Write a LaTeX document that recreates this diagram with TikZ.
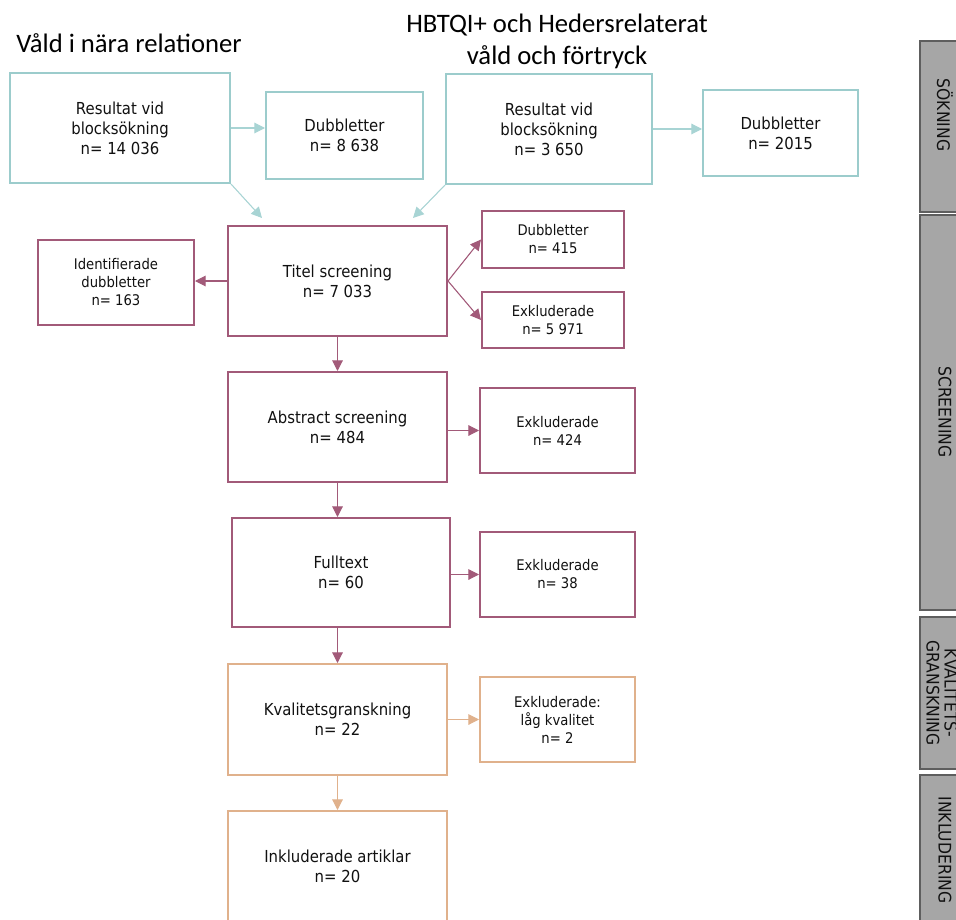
\documentclass[tikz,border=0pt]{standalone}
\usepackage{fontspec}
\setmainfont[FakeStretch=0.9]{DejaVu Sans}
\newfontfamily\titlefont{Carlito}
\usetikzlibrary{arrows.meta}
\definecolor{tealc}{HTML}{9CCCCC}
\definecolor{tealarr}{HTML}{A8D4D4}
\definecolor{maroon}{HTML}{A25A79}
\definecolor{tanc}{HTML}{E0B18C}
\definecolor{sidefill}{HTML}{A6A6A6}
\definecolor{sideline}{HTML}{5E5E5E}
\definecolor{txt}{HTML}{111111}
\tikzset{
  sz/.style 2 args={minimum width=#1*0.75pt, minimum height=#2*0.75pt},
  boxbase/.style={draw, line width=1.5pt, fill=white, align=center, inner sep=0pt, text=txt},
  big/.style={boxbase, font=\fontsize{12.4}{15}\selectfont},
  small/.style={boxbase, font=\fontsize{11}{13.5}\selectfont},
  tealbox/.style={draw=tealc},
  marbox/.style={draw=maroon},
  tanbox/.style={draw=tanc},
  arr/.style={line width=0.8pt, -{Triangle[length=8pt,width=8pt]}},
  tarr/.style={arr, draw=tealarr, fill=tealarr},
  marr/.style={arr, draw=maroon, fill=maroon},
  oarr/.style={arr, draw=tanc, fill=tanc},
  side/.style={draw=sideline, fill=sidefill, line width=1.2pt},
  sidetext/.style={rotate=-90, align=center, font=\fontsize{13}{13.5}\selectfont, text=txt},
  ttl/.style={font=\titlefont\fontsize{20}{24}\selectfont, align=center, text=black}
}
\begin{document}
\begin{tikzpicture}[x=0.75pt,y=-0.75pt]
\useasboundingbox (0,0) rectangle (956,920);
\clip (0,0) rectangle (956,920);

% titles
\node[ttl] (t1) at (129,43) {Våld i nära relationer};
\node[ttl] (t2) at (557,41) {HBTQI+ och Hedersrelaterat\\våld och förtryck};

% search boxes
\node[big, tealbox, sz={220}{110}] (r1) at (120,128) {Resultat vid\\blocksökning\\n= 14 036};
\node[big, tealbox, sz={157}{87}] (d1) at (344.5,135.5) {Dubbletter\\n= 8 638};
\node[big, tealbox, sz={206}{110}] (r2) at (549,129) {Resultat vid\\blocksökning\\n= 3 650};
\node[big, tealbox, sz={155}{86}] (d2) at (780.5,133) {Dubbletter\\n= 2015};

% screening
\node[big, marbox, sz={219}{110}] (ti) at (337.5,281) {Titel screening\\n= 7 033};
\node[small, marbox, sz={156}{85}] (id) at (116,282.5) {Identifierade\\dubbletter\\n= 163};
\node[small, marbox, sz={142}{57}] (da) at (553,239.5) {Dubbletter\\n= 415};
\node[small, marbox, sz={142}{56}] (ea) at (553,320) {Exkluderade\\n= 5 971};
\node[big, marbox, sz={219}{110}] (ab) at (337.5,427) {Abstract screening\\n= 484};
\node[small, marbox, sz={155}{85}] (eb) at (557.5,430.5) {Exkluderade\\n= 424};
\node[big, marbox, sz={218}{109}] (fu) at (341,572.5) {Fulltext\\n= 60};
\node[small, marbox, sz={155}{85}] (ec) at (557.5,574.5) {Exkluderade\\n= 38};

% quality
\node[big, tanbox, sz={219}{111}] (kv) at (337.5,719.5) {Kvalitetsgranskning\\n= 22};
\node[small, tanbox, sz={155}{85}] (el) at (557.5,719.5) {Exkluderade:\\låg kvalitet\\n= 2};
\node[big, tanbox, sz={219}{110}] (in) at (337.5,866) {Inkluderade artiklar\\n= 20};

% connectors
\coordinate (c1) at (262,218);
\coordinate (c2) at (413,218);
\draw[tarr] (r1.east) -- (r1.east -| d1.west);
\draw[tarr] (r2.east) -- (r2.east -| d2.west);
\draw[tarr] (r1.south east) -- (c1);
\draw[tarr] (r2.south west) -- (c2);
\draw[marr] (ti.west) -- (ti.west -| id.east);
\draw[marr] (ti.east) -- (da.west);
\draw[marr] (ti.east) -- (ea.west);
\draw[marr] (ti.south) -- (ab.north);
\draw[marr] (ab.east |- eb.west) -- (eb.west);
\draw[marr] (ab.south) -- (ab.south |- fu.north);
\draw[marr] (fu.east |- ec.west) -- (ec.west);
\draw[marr] (ab.south |- fu.south) -- (kv.north);
\draw[oarr] (kv.east) -- (el.west);
\draw[oarr] (kv.south) -- (in.north);

% side bar
\draw[side] (920,41) rectangle (985,212);
\draw[side] (920,215) rectangle (985,610);
\draw[side] (920,617) rectangle (985,769);
\draw[side] (920,775) rectangle (985,940);
\node[sidetext] (s1) at (945,115) {SÖKNING};
\node[sidetext] (s2) at (945,412) {SCREENING};
\node[sidetext] (s3) at (942,693) {KVALITETS-\\GRANSKNING};
\node[sidetext] (s4) at (945,850) {INKLUDERING};
\end{tikzpicture}
\end{document}
